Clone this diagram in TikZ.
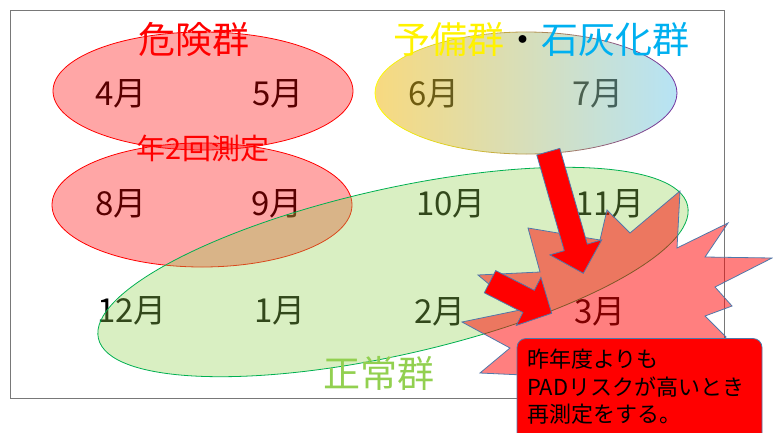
\documentclass[tikz,border=0pt]{standalone}
\usepackage{fontspec}
\setmainfont{Noto Sans CJK JP}
\definecolor{framegray}{RGB}{120,120,120}
\definecolor{calcblue}{RGB}{0,176,240}
\definecolor{normgreen}{RGB}{146,208,80}
\definecolor{edgegreen}{RGB}{0,176,80}
\definecolor{bordblue}{RGB}{80,120,170}
\definecolor{gradleft}{RGB}{240,180,0}
\definecolor{gradright}{RGB}{110,200,235}
\definecolor{edgepurple}{RGB}{112,48,160}
\begin{document}
\begin{tikzpicture}[x=1pt,y=-1pt,
  month/.style={font=\fontsize{33}{33}\selectfont, inner sep=0pt, text=black},
  grouptitle/.style={font=\fontsize{37}{37}\selectfont, inner sep=0pt},
  redell/.style={fill=red, fill opacity=0.35, draw=red, line width=0.8pt},
  greenell/.style={fill=normgreen, fill opacity=0.35, draw=edgegreen, draw opacity=1, line width=0.8pt},
  burst/.style={fill=red, fill opacity=0.5, draw=bordblue, line width=0.8pt},
  blockarrow/.style={fill=red, draw=bordblue, line width=0.8pt},
  notebox/.style={fill=red, draw=bordblue, line width=0.8pt, rounded corners=9pt}]
\useasboundingbox (0,0) rectangle (773,432);
% frame
\draw[framegray, line width=1pt] (10,10) rectangle (724.5,398.5);
% month labels (under the translucent groups)
\node[month] (m4)  at (121,94)  {4月};
\node[month] (m5)  at (278,94)  {5月};
\node[month] (m6)  at (434,94)  {6月};
\node[month] (m7)  at (598,94)  {7月};
\node[month] (m8)  at (121,204) {8月};
\node[month] (m9)  at (277,204) {9月};
\node[month] (m10) at (451,204) {10月};
\node[month] (m11) at (610,204) {11月};
\node[month] (m12) at (132,311) {12月};
\node[month] (m1)  at (280,311) {1月};
\node[month] (m2)  at (440,312) {2月};
\node[month] (m3)  at (600,312) {3月};
% danger group ellipses
\path[redell] (203,91) ellipse [x radius=150, y radius=59];
\path[redell] (202,205) ellipse [x radius=150, y radius=62];
% reserve / calcification group ellipse
\shade[left color=gradleft, right color=gradright, fill opacity=0.5] (526,93) ellipse [x radius=151, y radius=61];
\foreach \a in {0,5,...,355}{
  \pgfmathsetmacro\mixv{50+50*cos(\a+2.5)}
  \draw[draw=edgepurple!\mixv!yellow, line width=0.8pt] (526,93) ++(\a:151 and 61) arc[start angle=\a, end angle=\a+5, x radius=151, y radius=61];
}
% normal group ellipse
\path[greenell, rotate around={12.7:(393,272)}] (393,272) ellipse [x radius=302, y radius=83];
% explosion
\path[burst] (462,322) -- (520,310) -- (478,275) -- (540,272) -- (528,228) -- (600,240)
  -- (607,210) -- (630,233) -- (680,191) -- (677,248) -- (728,223) -- (705,257)
  -- (772,258) -- (715,287) -- (732,306) -- (705,316) -- (726,337) -- (705,365)
  -- (730,420) -- (660,395) -- (640,440) -- (600,400) -- (560,440) -- (545,376)
  -- (480,373) -- (510,348) -- cycle;
% block arrows
\path[blockarrow] (559.8,148.4) -- (536.8,155) -- (564.3,250.7) -- (549.9,254.9)
  -- (583.3,273.3) -- (601.7,239.9) -- (587.3,244.1) -- cycle;
\path[blockarrow] (495.7,270.6) -- (484.3,292.8) -- (522.9,312.5) -- (516.3,325.4)
  -- (551.7,313.3) -- (540.9,277.4) -- (534.3,290.3) -- cycle;
% note box
\path[notebox] (517,338.5) rectangle (762,450);
\node[anchor=north west, align=left, inner sep=0pt, text=black,
  font=\fontsize{22}{27.5}\selectfont] (note) at (527,349)
  {昨年度よりも\\PADリスクが高いとき\\再測定をする。};
% titles
\node[grouptitle, text=red] (danger) at (194,39) {危険群};
\node[grouptitle] (reserve) at (541,39)
  {\textcolor{yellow}{予備群}\textcolor{black}{・}\textcolor{calcblue}{石灰化群}};
\node[grouptitle, text=normgreen] (normal) at (379,373) {正常群};
\node[inner sep=0pt, text=red, font=\fontsize{29}{29}\selectfont] (twice) at (203,148) {年2回測定};
\end{tikzpicture}
\end{document}
